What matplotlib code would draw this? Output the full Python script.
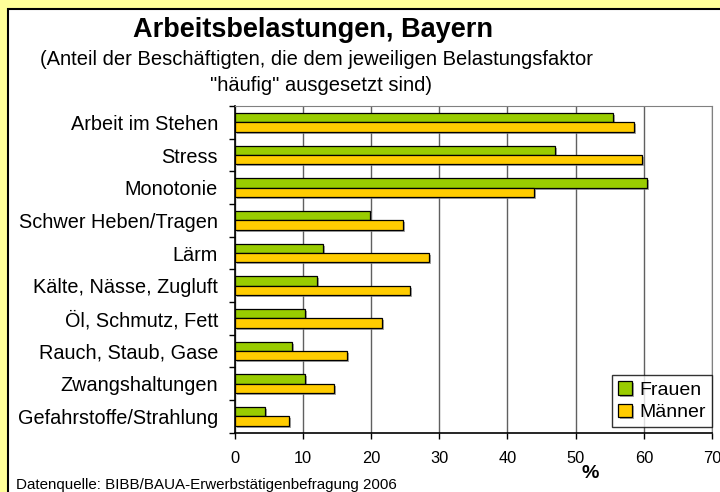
import matplotlib
matplotlib.use("Agg")
import matplotlib.pyplot as plt
from matplotlib.patches import Rectangle
from matplotlib import patheffects as pe

plt.rcParams['font.family'] = ['Liberation Sans', 'DejaVu Sans']

categories = ["Arbeit im Stehen", "Stress", "Monotonie", "Schwer Heben/Tragen", "Lärm",
              "Kälte, Nässe, Zugluft", "Öl, Schmutz, Fett", "Rauch, Staub, Gase",
              "Zwangshaltungen", "Gefahrstoffe/Strahlung"]
frauen = [55.5, 47.0, 60.4, 19.8, 13.0, 12.1, 10.3, 8.4, 10.3, 4.4]
maenner = [58.6, 59.7, 43.9, 24.7, 28.5, 25.7, 21.6, 16.4, 14.6, 8.0]
xticks = [0, 10, 20, 30, 40, 50, 60, 70]

W, H = 720, 492
fig = plt.figure(figsize=(W / 100, H / 100), dpi=100, facecolor='#FFFF99')
fig.patches.append(Rectangle((8 / W, -0.1), 1.2, 1 - 9 / H + 0.1, transform=fig.transFigure,
                             facecolor='white', edgecolor='black', linewidth=1.5, zorder=-5))

ax = fig.add_axes([234.7 / W, 1 - 432.7 / H, (712 - 234.7) / W, (432.7 - 106) / H])
ax.set_zorder(2)
ax.set_facecolor('white')

bh = 0.285
ypos = list(range(len(categories)))
shadow = [pe.SimplePatchShadow(offset=(1.5, -1.5), shadow_rgbFace='#808080', alpha=0.7), pe.Normal()]
b1 = ax.barh([y - bh / 2 for y in ypos], frauen, height=bh, color='#99CC00', edgecolor='black',
             linewidth=0.9, label='Frauen', zorder=3)
b2 = ax.barh([y + bh / 2 for y in ypos], maenner, height=bh, color='#FFCC00', edgecolor='black',
             linewidth=0.9, label='Männer', zorder=3)
for b in list(b1) + list(b2):
    b.set_path_effects(shadow)

ax.set_xlim(0, 70)
ax.set_ylim(len(categories) - 0.5, -0.5)
ax.set_xticks(xticks)
ax.set_xticklabels([str(t) for t in xticks], fontsize=11.8)
ax.tick_params(axis='x', direction='out', length=4, width=1, pad=9)
ax.set_yticks(ypos)
ax.set_yticklabels(categories, fontsize=14.3)
ax.tick_params(axis='y', which='major', length=0, pad=12)
ax.set_yticks([y - 0.5 for y in ypos] + [len(categories) - 0.5], minor=True)
ax.tick_params(axis='y', which='minor', direction='out', length=4, width=1)
ax.grid(axis='x', color='#606060', linewidth=1, zorder=0)
ax.set_axisbelow(True)
for s in ['top', 'right']:
    ax.spines[s].set_color('#808080')
for s in ['left', 'bottom']:
    ax.spines[s].set_color('black')
    ax.spines[s].set_linewidth(1.2)

fig.text(590 / W, 1 - 473 / H, '%', fontsize=14, fontweight='bold', ha='center', va='center')

leg = ax.legend(loc='lower right', bbox_to_anchor=(1.0, 0.017), borderaxespad=0,
                fontsize=14, frameon=True, fancybox=False, edgecolor='black',
                handlelength=0.7, handleheight=0.7, handletextpad=0.4, borderpad=0.3,
                labelspacing=0.25)
leg.get_frame().set_linewidth(1)

fig.text(133 / W, 1 - 37 / H, 'Arbeitsbelastungen, Bayern', fontsize=19.5, fontweight='bold',
         ha='left', va='baseline')
fig.text(40 / W, 1 - 65 / H, '(Anteil der Beschäftigten, die dem jeweiligen Belastungsfaktor',
         fontsize=14.5, ha='left', va='baseline')
fig.text(210 / W, 1 - 91 / H, '"häufig" ausgesetzt sind)', fontsize=14.5, ha='left',
         va='baseline')
fig.text(16 / W, 1 - 485 / H, 'Datenquelle: BIBB/BAUA-Erwerbstätigenbefragung 2006',
         fontsize=10.9, ha='left', va='center')

fig.savefig('out.png', dpi=100, facecolor=fig.get_facecolor())
